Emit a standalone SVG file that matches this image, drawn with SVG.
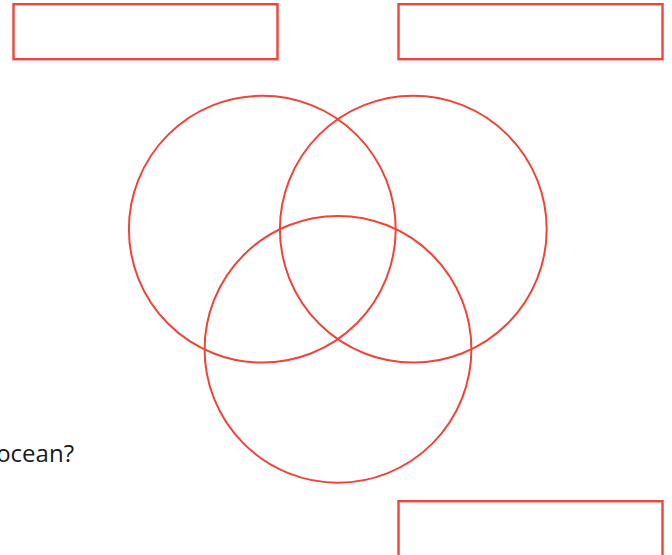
<svg xmlns="http://www.w3.org/2000/svg" width="672" height="555" viewBox="0 0 672 555">
<style>
.box{fill:#fff;stroke:#f04438;stroke-width:2.4}
.ring{fill:none;stroke:#f04438;stroke-width:2}
.lbl{font-family:"Open Sans","Noto Sans",sans-serif;font-size:24px;fill:#1a1a1a}
</style>
<rect width="672" height="555" fill="#fff"/>
<g id="box-top-left"><rect class="box" x="13.5" y="4.2" width="264" height="55"/></g>
<g id="box-top-right"><rect class="box" x="398.5" y="4.2" width="264" height="55"/></g>
<g id="box-bottom-right"><rect class="box" x="398.5" y="501.2" width="264" height="70"/></g>
<g id="circle-left"><circle class="ring" cx="262.3" cy="229.2" r="133.4"/></g>
<g id="circle-right"><circle class="ring" cx="413.3" cy="229.2" r="133.4"/></g>
<g id="circle-bottom"><circle class="ring" cx="338" cy="349.3" r="133.4"/></g>
<g id="label"><text class="lbl" x="74" y="461.7" text-anchor="end">ocean?</text></g>
<g id="connectors"></g>
</svg>
